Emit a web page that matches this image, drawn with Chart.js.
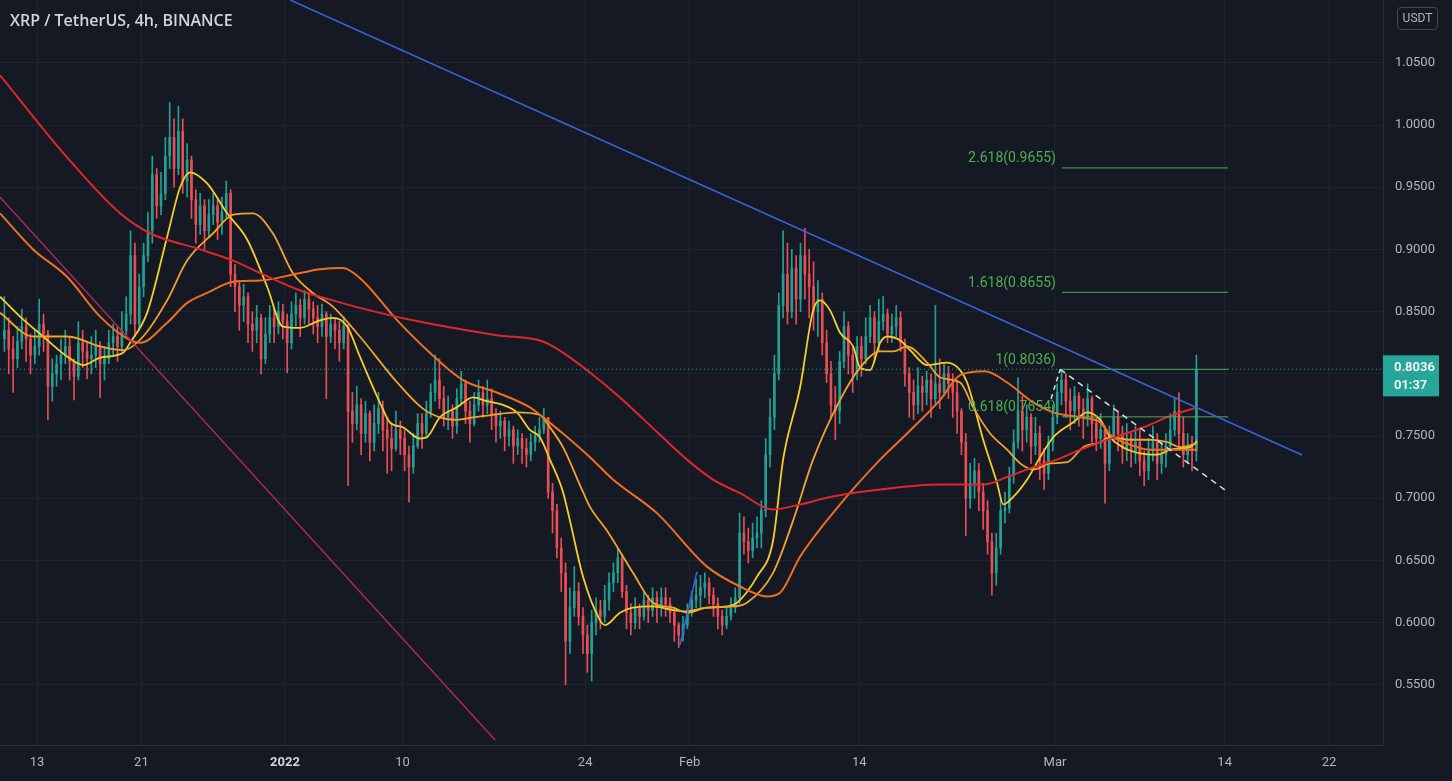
<!DOCTYPE html>
<html>
<head>
<meta charset="utf-8">
<title>XRP / TetherUS 4h</title>
<script src="https://cdn.jsdelivr.net/npm/chart.js@4.4.1/dist/chart.umd.min.js"></script>
<style>
  html, body { margin: 0; padding: 0; background: #151924; overflow: hidden; }
  #wrap { position: relative; width: 1452px; height: 781px; }
  #title { position: absolute; left: 10px; top: 9px; font: 600 16px "Open Sans", sans-serif; color: #d1d4dc; }
  #unit { position: absolute; left: 1397px; top: 7px; width: 41px; height: 23px; border: 1px solid #434651; border-radius: 4px;
          box-sizing: border-box; font: 12px Roboto, sans-serif; color: #b2b5be; text-align: center; line-height: 21px; }
</style>
</head>
<body>
<div id="wrap">
  <canvas id="chart" width="1452" height="781"></canvas>
  <div id="title">XRP / TetherUS, 4h, BINANCE</div>
  <div id="unit">USDT</div>
</div>
<script>
// candles (8h steps starting Dec 10 12:00), open = previous close
const firstOpen = 0.828;
const closes = [
  0.835,0.820,0.812,0.826,0.838,0.828,0.815,0.822,0.840,0.832,
  0.790,0.800,0.808,0.815,0.822,0.810,0.798,0.825,0.818,0.812,
  0.815,0.822,0.808,0.812,0.825,0.830,0.822,0.835,0.848,0.895,
  0.840,0.870,0.895,0.915,0.960,0.935,0.945,0.975,0.990,0.965,
  0.995,0.955,0.972,0.940,0.920,0.935,0.915,0.928,0.935,0.922,
  0.930,0.945,0.880,0.870,0.855,0.862,0.840,0.835,0.845,0.812,
  0.832,0.845,0.838,0.850,0.842,0.825,0.848,0.855,0.845,0.860,
  0.852,0.845,0.838,0.848,0.830,0.840,0.835,0.825,0.838,0.770,
  0.760,0.775,0.752,0.768,0.745,0.760,0.772,0.755,0.748,0.740,
  0.755,0.748,0.735,0.725,0.742,0.760,0.752,0.768,0.785,0.795,
  0.780,0.765,0.770,0.758,0.780,0.792,0.770,0.760,0.775,0.785,
  0.775,0.780,0.768,0.758,0.762,0.750,0.755,0.742,0.748,0.740,
  0.735,0.745,0.750,0.755,0.765,0.705,0.690,0.660,0.640,0.585,
  0.612,0.625,0.605,0.590,0.575,0.600,0.610,0.605,0.618,0.632,
  0.640,0.652,0.625,0.608,0.600,0.612,0.605,0.618,0.610,0.620,
  0.612,0.620,0.615,0.608,0.598,0.590,0.598,0.608,0.618,0.622,
  0.628,0.632,0.622,0.615,0.605,0.598,0.605,0.612,0.620,0.672,
  0.665,0.658,0.668,0.672,0.690,0.735,0.765,0.800,0.855,0.880,
  0.850,0.885,0.860,0.895,0.880,0.870,0.850,0.860,0.825,0.800,
  0.775,0.770,0.810,0.838,0.815,0.800,0.822,0.812,0.830,0.845,
  0.825,0.842,0.848,0.832,0.838,0.845,0.825,0.800,0.785,0.775,
  0.790,0.785,0.795,0.780,0.792,0.785,0.800,0.792,0.785,0.770,
  0.745,0.700,0.712,0.722,0.705,0.690,0.665,0.640,0.660,0.690,
  0.692,0.718,0.745,0.770,0.755,0.765,0.742,0.752,0.730,0.720,
  0.745,0.765,0.785,0.795,0.778,0.770,0.782,0.772,0.765,0.780,
  0.760,0.748,0.755,0.728,0.750,0.765,0.752,0.740,0.748,0.738,
  0.745,0.730,0.722,0.738,0.745,0.728,0.735,0.742,0.755,0.770,
  0.752,0.735,0.742,0.738,0.8036
];
const highs = [
  0.862,0.845,0.830,0.838,0.852,0.845,0.832,0.835,0.860,0.848,
  0.835,0.812,0.815,0.828,0.835,0.830,0.812,0.842,0.835,0.826,
  0.830,0.835,0.826,0.822,0.835,0.840,0.838,0.850,0.862,0.915,
  0.905,0.880,0.905,0.930,0.975,0.965,0.962,0.990,1.018,1.005,
  1.015,1.005,0.985,0.975,0.948,0.945,0.940,0.940,0.945,0.940,
  0.942,0.955,0.948,0.888,0.875,0.872,0.865,0.850,0.855,0.848,
  0.845,0.855,0.852,0.858,0.856,0.848,0.858,0.865,0.860,0.867,
  0.865,0.858,0.855,0.856,0.850,0.848,0.845,0.842,0.846,0.840,
  0.785,0.790,0.780,0.778,0.770,0.775,0.785,0.778,0.765,0.760,
  0.770,0.762,0.755,0.742,0.752,0.768,0.768,0.778,0.792,0.815,
  0.812,0.790,0.782,0.775,0.788,0.802,0.795,0.778,0.785,0.795,
  0.790,0.795,0.788,0.772,0.770,0.765,0.762,0.758,0.755,0.752,
  0.748,0.752,0.758,0.765,0.772,0.765,0.712,0.695,0.668,0.648,
  0.628,0.645,0.632,0.612,0.598,0.610,0.620,0.618,0.630,0.640,
  0.648,0.660,0.655,0.630,0.615,0.620,0.615,0.625,0.622,0.628,
  0.625,0.628,0.628,0.620,0.612,0.600,0.605,0.615,0.625,0.635,
  0.638,0.640,0.636,0.628,0.620,0.610,0.612,0.620,0.628,0.688,
  0.685,0.676,0.680,0.685,0.698,0.748,0.780,0.815,0.865,0.915,
  0.905,0.900,0.895,0.905,0.917,0.900,0.890,0.875,0.865,0.835,
  0.810,0.790,0.818,0.850,0.842,0.822,0.830,0.830,0.845,0.855,
  0.850,0.860,0.862,0.852,0.848,0.855,0.850,0.828,0.805,0.795,
  0.805,0.798,0.802,0.800,0.855,0.812,0.808,0.806,0.800,0.795,
  0.772,0.752,0.728,0.732,0.728,0.712,0.698,0.672,0.672,0.700,
  0.705,0.725,0.755,0.797,0.782,0.775,0.768,0.765,0.758,0.740,
  0.750,0.775,0.792,0.8036,0.800,0.788,0.790,0.785,0.780,0.792,
  0.782,0.765,0.768,0.758,0.758,0.775,0.770,0.758,0.760,0.752,
  0.758,0.755,0.738,0.748,0.758,0.752,0.745,0.752,0.768,0.780,
  0.785,0.765,0.752,0.750,0.815
];
const lows = [
  0.818,0.800,0.785,0.805,0.820,0.810,0.800,0.808,0.815,0.818,
  0.763,0.778,0.790,0.795,0.808,0.795,0.779,0.795,0.805,0.796,
  0.800,0.805,0.781,0.795,0.808,0.815,0.810,0.818,0.830,0.840,
  0.830,0.835,0.862,0.890,0.905,0.925,0.928,0.940,0.965,0.950,
  0.960,0.945,0.942,0.925,0.905,0.912,0.900,0.910,0.920,0.908,
  0.912,0.925,0.870,0.850,0.835,0.842,0.825,0.818,0.825,0.800,
  0.808,0.825,0.825,0.832,0.828,0.801,0.820,0.838,0.830,0.840,
  0.840,0.832,0.825,0.830,0.780,0.825,0.820,0.810,0.820,0.710,
  0.745,0.755,0.735,0.745,0.730,0.738,0.752,0.738,0.720,0.722,
  0.738,0.735,0.722,0.697,0.720,0.740,0.740,0.748,0.765,0.778,
  0.772,0.758,0.755,0.748,0.752,0.775,0.760,0.745,0.758,0.770,
  0.765,0.768,0.755,0.745,0.748,0.738,0.742,0.728,0.735,0.728,
  0.725,0.730,0.738,0.745,0.752,0.700,0.672,0.652,0.625,0.550,
  0.575,0.605,0.598,0.575,0.560,0.553,0.590,0.595,0.600,0.610,
  0.625,0.632,0.620,0.595,0.590,0.595,0.595,0.602,0.600,0.605,
  0.600,0.605,0.605,0.600,0.585,0.580,0.585,0.595,0.605,0.612,
  0.612,0.620,0.615,0.605,0.595,0.590,0.595,0.602,0.608,0.615,
  0.655,0.648,0.652,0.660,0.660,0.685,0.725,0.755,0.795,0.845,
  0.840,0.845,0.840,0.850,0.860,0.845,0.835,0.830,0.815,0.793,
  0.765,0.747,0.760,0.805,0.800,0.785,0.795,0.798,0.808,0.825,
  0.810,0.818,0.835,0.825,0.825,0.830,0.818,0.790,0.765,0.763,
  0.768,0.770,0.775,0.765,0.775,0.772,0.782,0.780,0.765,0.752,
  0.735,0.670,0.692,0.700,0.690,0.675,0.655,0.622,0.630,0.655,
  0.680,0.688,0.712,0.740,0.738,0.745,0.728,0.735,0.715,0.707,
  0.715,0.738,0.760,0.775,0.765,0.755,0.760,0.758,0.748,0.758,
  0.745,0.738,0.740,0.696,0.722,0.745,0.738,0.728,0.730,0.725,
  0.728,0.718,0.710,0.715,0.730,0.715,0.720,0.725,0.738,0.750,
  0.740,0.725,0.728,0.722,0.730
];

// moving averages: [candle index, price]
const maFast = [[-1,0.862],[3.6,0.846],[8.9,0.830],[14.4,0.814],[18.1,0.807],[22,0.813],[27.3,0.817],[28.9,0.825],
  [32.8,0.849],[37.4,0.910],[40.4,0.950],[42.7,0.962],[46.6,0.953],[51.2,0.929],[55.8,0.908],[60.4,0.870],[64,0.838],
  [68,0.837],[72.5,0.843],[75.5,0.845],[78.8,0.838],[81.7,0.814],[86.3,0.777],[88.6,0.761],[91.6,0.757],[95.5,0.748],
  [97.1,0.749],[100.1,0.765],[104,0.773],[107.7,0.781],[110.9,0.778],[114.6,0.775],[117.8,0.769],[120.8,0.755],
  [123.1,0.749],[125.4,0.731],[128.4,0.705],[130,0.682],[133,0.637],[136.9,0.602],[138.1,0.598],[141.5,0.608],
  [144.5,0.612],[149.1,0.613],[153.7,0.610],[156.9,0.609],[161.5,0.612],[166.1,0.613],[168.4,0.616],[173,0.637],
  [176.7,0.666],[179,0.731],[182.9,0.789],[185.9,0.851],[187.5,0.859],[189.8,0.851],[192.1,0.833],[195.1,0.822],
  [196.7,0.805],[199,0.803],[201.3,0.825],[202.9,0.830],[205.9,0.827],[208.2,0.819],[212.1,0.807],[216.7,0.809],
  [219.7,0.803],[221.3,0.793],[225,0.747],[228.2,0.712],[229.6,0.695],[231.9,0.701],[235.1,0.715],[238.1,0.733],
  [241.1,0.749],[245.7,0.761],[248.9,0.769],[251.9,0.763],[254.2,0.749],[257.1,0.741],[261.1,0.736],[265,0.735],
  [268,0.739],[270.3,0.740],[272.5,0.741],[274.2,0.746]];
const maMid = [[-1,0.849],[6.6,0.830],[14.4,0.830],[22,0.822],[27.3,0.819],[31.9,0.830],[37.4,0.859],[42,0.891],
  [48,0.913],[52.6,0.928],[57.1,0.929],[61.7,0.913],[66.3,0.881],[70.9,0.865],[75.5,0.854],[81.7,0.830],[90.3,0.793],
  [96.2,0.772],[100.1,0.765],[104,0.763],[107.7,0.765],[112.3,0.767],[117.8,0.769],[123.1,0.767],[125.4,0.757],
  [128.4,0.741],[133,0.705],[134.6,0.693],[138.5,0.674],[144.5,0.640],[149.1,0.616],[153.7,0.612],[156.9,0.608],
  [161.5,0.612],[167.5,0.613],[170.7,0.616],[176.7,0.640],[181.3,0.682],[185.9,0.731],[192.1,0.779],[196.7,0.805],
  [201.3,0.818],[204.3,0.818],[207.5,0.822],[212.1,0.809],[215.1,0.797],[219.7,0.793],[222.7,0.773],[226.6,0.752],
  [230.5,0.739],[233.5,0.728],[236.5,0.723],[240.4,0.728],[244.3,0.729],[248,0.741],[251.9,0.745],[254.2,0.749],
  [258.8,0.747],[263.3,0.747],[267.3,0.745],[270.3,0.741],[274.2,0.744]];
const maSlow = [[-1,0.929],[6.6,0.900],[14.4,0.878],[22,0.846],[28.9,0.827],[31.2,0.825],[37.4,0.841],[42,0.857],
  [46.6,0.865],[52.6,0.874],[58.8,0.875],[68,0.881],[72.5,0.884],[77.8,0.885],[81.7,0.877],[90.3,0.843],[97.8,0.817],
  [105.4,0.795],[113.2,0.785],[120.8,0.773],[123.8,0.765],[128.4,0.752],[134.6,0.733],[139.9,0.715],[150,0.688],
  [161.5,0.645],[169.1,0.629],[175.3,0.621],[178.3,0.624],[182.9,0.653],[192.1,0.695],[201.3,0.731],[207.5,0.752],
  [215.1,0.779],[219.7,0.799],[225.4,0.802],[230.5,0.793],[236.5,0.777],[241.1,0.769],[247.3,0.765],[251.9,0.761],
  [254.2,0.751],[258.8,0.743],[263.3,0.739],[274.2,0.739]];
const maLong = [[-1,1.040],[14.4,0.974],[26.6,0.929],[33.5,0.913],[45,0.900],[52.6,0.891],[58.8,0.881],[68,0.867],
  [75.5,0.859],[81.7,0.853],[93.9,0.843],[113.2,0.831],[123.8,0.826],[128.4,0.817],[134.6,0.801],[141.5,0.781],
  [150.7,0.751],[157.6,0.729],[162.9,0.715],[169.1,0.704],[176.7,0.691],[182.9,0.695],[189.8,0.701],[201.3,0.707],
  [215.1,0.711],[225,0.711],[230.5,0.717],[236.5,0.725],[242,0.731],[247.3,0.739],[251.9,0.745],[261.1,0.756],
  [268.7,0.767],[274.2,0.773]];

// drawings
const trendBlue = [[65.7,1.1005],[298.3,0.7347]];
const trendPink = [[-1.01,0.942],[112.8,0.5056]];
const trendShort = [[155.3,0.582],[159.2,0.641]];
const dashUp = [[240.6,0.780],[242.7,0.8036]];
const dashDown = [[242.7,0.8036],[280.6,0.7066]];
const fibLabels = ['2.618(0.9655)','1.618(0.8655)','1(0.8036)','0.618(0.7654)'];
const fibPrices = [0.9655, 0.8655, 0.8036, 0.7654];
const fibSpan = [243.1, 281.3];

const lastPrice = 0.8036;
const countdown = '01:37';

// axes
const dateTicks = [7.5, 31.5, 64.5, 91.5, 133.5, 157.5, 196.5, 241.5, 280.5, 304.5];
const dateLabels = ['13','21','2022','10','24','Feb','14','Mar','14','22'];
const priceTicks = [0.55,0.60,0.65,0.70,0.75,0.80,0.85,0.90,0.95,1.00,1.05];

const UP = '#22a094', DOWN = '#e84e55';
const opens = closes.map((c, i) => i === 0 ? firstOpen : closes[i - 1]);
const isUp = i => closes[i] >= opens[i];
const pts = arr => arr.map(p => ({ x: p[0], y: p[1] }));

const wickData = closes.map((c, i) => ({ x: i, y: [Math.min(lows[i], opens[i], c), Math.max(highs[i], opens[i], c)] }));
const bodyData = closes.map((c, i) => ({ x: i, y: [opens[i], c] }));
const candleColor = ctx => isUp(ctx.dataIndex) ? UP : DOWN;

function lineSet(data, color, width, extra) {
    return Object.assign({
        type: 'line', data: pts(data), borderColor: color, borderWidth: width,
        pointRadius: 0, fill: false, cubicInterpolationMode: 'monotone', order: 2
    }, extra || {});
}
const straight = (data, color, width, dash) => lineSet(data, color, width,
    { cubicInterpolationMode: 'default', tension: 0, borderDash: dash || [], order: 1 });

const datasets = [
    { type: 'bar', data: wickData, backgroundColor: candleColor, barThickness: 1, grouped: false, order: 10 },
    { type: 'bar', data: bodyData, backgroundColor: candleColor, barThickness: 2, minBarLength: 1, grouped: false, order: 9 },
    lineSet(maLong, '#e0262d', 2),
    lineSet(maSlow, '#ef6f1d', 2),
    lineSet(maMid, '#f3a327', 1.8),
    lineSet(maFast, '#f5cf24', 1.8),
    straight(trendBlue, '#3a62e0', 1.5),
    straight(trendPink, '#b3245e', 1.5),
    straight(trendShort, '#3a62e0', 1.5),
    straight(dashUp, '#d8dbe0', 1.5, [5, 4]),
    straight(dashDown, '#d8dbe0', 1.5, [6, 5]),
    straight([[-1.01, lastPrice], [316.9, lastPrice]], '#26a69a', 1, [1, 3])
];
fibPrices.forEach(p => datasets.push(straight([[fibSpan[0], p], [fibSpan[1], p]], '#4caf50', 1)));

const overlay = {
    id: 'overlay',
    beforeDraw(chart) {
        const c = chart.ctx;
        c.save();
        c.fillStyle = '#151924';
        c.fillRect(0, 0, chart.width, chart.height);
        c.restore();
    },
    afterDraw(chart) {
        const c = chart.ctx, xs = chart.scales.x, ys = chart.scales.y;
        c.save();
        // fib labels
        c.font = '14px Roboto, sans-serif';
        c.fillStyle = '#4caf50';
        c.textAlign = 'right';
        c.textBaseline = 'middle';
        const fx = xs.getPixelForValue(fibSpan[0]) - 6;
        fibPrices.forEach((p, k) => c.fillText(fibLabels[k], fx, ys.getPixelForValue(p) - 9));
        // last price tag
        const y = ys.getPixelForValue(lastPrice);
        const left = chart.chartArea.right;
        c.fillStyle = '#26a69a';
        c.fillRect(left, y - 14, 56, 41);
        c.fillStyle = '#ffffff';
        c.textAlign = 'left';
        c.font = '600 13px Roboto, sans-serif';
        c.fillText(lastPrice.toFixed(4), left + 11, y - 2);
        c.fillText(countdown, left + 11, y + 16);
        c.restore();
    }
};

new Chart(document.getElementById('chart'), {
    type: 'bar',
    data: { datasets },
    options: {
        responsive: false,
        devicePixelRatio: 1,
        animation: false,
        events: [],
        layout: { padding: 0 },
        plugins: { legend: { display: false }, tooltip: { enabled: false } },
        scales: {
            x: {
                type: 'linear', min: -1.01, max: 316.9, offset: false,
                afterBuildTicks: s => { s.ticks = dateTicks.map(v => ({ value: v })); },
                afterFit: s => { s.height = 36; s.paddingLeft = 0; s.paddingRight = 0; },
                grid: { color: '#1f2330', drawTicks: false, offset: false },
                border: { color: '#2a2e39' },
                ticks: {
                    autoSkip: false, maxRotation: 0, padding: 10,
                    callback: (v, i) => dateLabels[i],
                    color: ctx => dateLabels[ctx.index] === '2022' ? '#d1d4dc' : '#b2b5be',
                    font: ctx => ({ family: 'Roboto', size: 13, weight: dateLabels[ctx.index] === '2022' ? 'bold' : 'normal' })
                }
            },
            y: {
                type: 'linear', position: 'right', min: 0.5016, max: 1.1005,
                afterBuildTicks: s => { s.ticks = priceTicks.map(v => ({ value: v })); },
                afterFit: s => { s.width = 69; s.paddingTop = 0; s.paddingBottom = 0; },
                grid: { color: '#1f2330', drawTicks: false },
                border: { color: '#2a2e39' },
                ticks: { padding: 12, color: '#b2b5be', font: { family: 'Roboto', size: 13 }, callback: v => v.toFixed(4) }
            }
        }
    },
    plugins: [overlay]
});
</script>
</body>
</html>
